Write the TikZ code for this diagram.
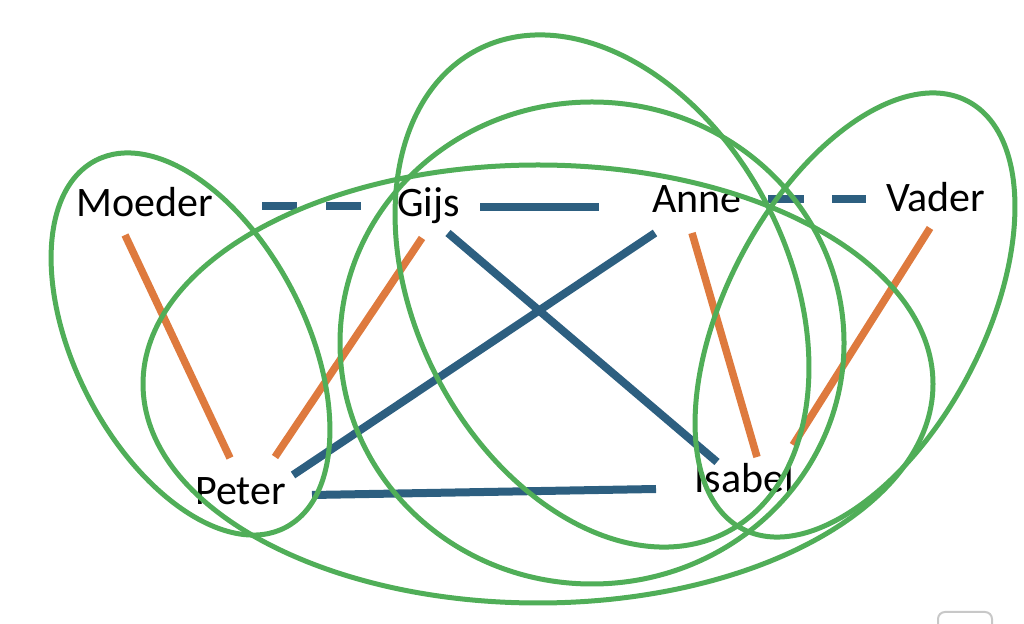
\documentclass[tikz,border=0pt]{standalone}
\usepackage{fontspec}
\setmainfont{Carlito}
\definecolor{ringgreen}{RGB}{80,174,88}
\definecolor{linkblue}{RGB}{45,95,128}
\definecolor{linkorange}{RGB}{222,122,62}
\definecolor{boxgray}{RGB}{200,200,200}
\tikzset{
  lbl/.style={inner sep=0pt, anchor=base west, font=\fontsize{42}{50}\selectfont},
  parent/.style={draw=linkorange, line width=7.5pt},
  sib/.style={draw=linkblue, line width=8pt},
  partner/.style={draw=linkblue, line width=8pt},
  ring/.style={draw=ringgreen, line width=5pt},
}
\begin{document}
\begin{tikzpicture}[x=1pt,y=1pt]
\useasboundingbox (0,0) rectangle (1024,623);
% connector end points
\coordinate (mp1) at (125,388); \coordinate (mp2) at (230,165);
\coordinate (gp1) at (422,385); \coordinate (gp2) at (275,166);
\coordinate (ai1) at (692,390); \coordinate (ai2) at (757,166);
\coordinate (vi1) at (930,395); \coordinate (vi2) at (793,178);
\coordinate (mg1) at (262,417); \coordinate (mg2) at (361,417);
\coordinate (ga1) at (480,416); \coordinate (ga2) at (599,416);
\coordinate (av1) at (768,424); \coordinate (av2) at (866,424);
\coordinate (gi1) at (448,390); \coordinate (gi2) at (717,161);
\coordinate (ap1) at (655,390); \coordinate (ap2) at (293,148);
\coordinate (pi1) at (312,128); \coordinate (pi2) at (656,134);
% connectors
\draw[parent] (mp1) -- (mp2);
\draw[parent] (gp1) -- (gp2);
\draw[parent] (ai1) -- (ai2);
\draw[parent] (vi1) -- (vi2);
\draw[partner, dash pattern=on 35pt off 29pt] (mg1) -- (mg2);
\draw[partner, dash pattern=on 36pt off 28pt] (av1) -- (av2);
\draw[sib] (ga1) -- (ga2);
\draw[sib] (gi1) -- (gi2);
\draw[sib] (ap1) -- (ap2);
\draw[sib] (pi1) -- (pi2);
% labels
\node[lbl] (moeder) at (76,406) {Moeder};
\node[lbl] (gijs) at (397,406) {Gijs};
\node[lbl] (anne) at (652,410) {Anne};
\node[lbl] (vader) at (886,411) {Vader};
\node[lbl] (peter) at (195,118) {Peter};
\node[lbl] (isabel) at (694,130) {Isabel};
% groups
\draw[ring, rotate around={-62.7:(190.5,279)}] (190.5,279) ellipse [x radius=206.6, y radius=115.1];
\draw[ring] (538,239) ellipse [x radius=395, y radius=219];
\draw[ring, rotate around={-62.8:(602,332)}] (602,332) ellipse [x radius=271.5, y radius=186.2];
\draw[ring] (592,280) ellipse [x radius=252, y radius=241];
\draw[ring, rotate around={62.2:(855,308)}] (855,308) ellipse [x radius=241.7, y radius=128.3];
% partial box at lower right edge
\draw[boxgray, line width=2pt, rounded corners=7pt] (938,-12) rectangle (992,11);
\end{tikzpicture}
\end{document}
